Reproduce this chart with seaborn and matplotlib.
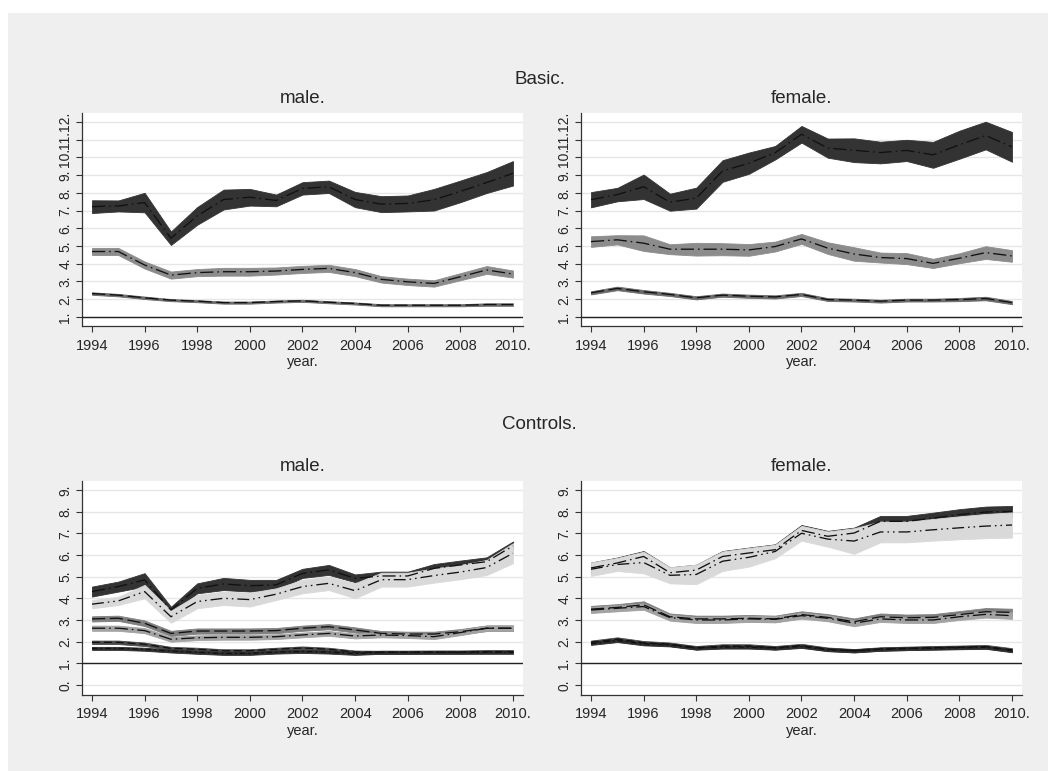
import matplotlib
matplotlib.use("Agg")
import matplotlib.pyplot as plt
from matplotlib.patches import Rectangle
import seaborn as sns

years = [1994, 1995, 1996, 1997, 1998, 1999, 2000, 2001, 2002,
         2003, 2004, 2005, 2006, 2007, 2008, 2009, 2010]
xtick_years = [1994, 1996, 1998, 2000, 2002, 2004, 2006, 2008, 2010]
xtick_labels = ["1994", "1996", "1998", "2000", "2002", "2004", "2006", "2008", "2010."]

# ---- Basic specification: male ----
basic_m_top = [7.22, 7.26, 7.45, 5.44, 6.70, 7.62, 7.75, 7.57, 8.25, 8.34, 7.62, 7.36, 7.40, 7.61, 8.08, 8.58, 9.10]
basic_m_top_ci = [0.36, 0.31, 0.55, 0.38, 0.50, 0.56, 0.47, 0.33, 0.35, 0.35, 0.43, 0.45, 0.45, 0.61, 0.61, 0.59, 0.69]
basic_m_mid = [4.69, 4.69, 3.93, 3.36, 3.50, 3.55, 3.55, 3.59, 3.68, 3.74, 3.50, 3.12, 2.98, 2.89, 3.27, 3.65, 3.42]
basic_m_mid_ci = [0.20, 0.20, 0.20, 0.20, 0.20, 0.22, 0.22, 0.20, 0.20, 0.20, 0.20, 0.18, 0.18, 0.18, 0.20, 0.22, 0.20]
basic_m_low = [2.32, 2.23, 2.08, 1.95, 1.89, 1.81, 1.81, 1.87, 1.91, 1.83, 1.76, 1.66, 1.66, 1.66, 1.66, 1.70, 1.70]
basic_m_low_ci = [0.07, 0.07, 0.07, 0.06, 0.06, 0.06, 0.06, 0.06, 0.06, 0.06, 0.06, 0.06, 0.06, 0.06, 0.06, 0.07, 0.07]

# ---- Basic specification: female ----
basic_f_top = [7.61, 7.90, 8.34, 7.47, 7.70, 9.23, 9.67, 10.26, 11.30, 10.52, 10.40, 10.27, 10.39, 10.14, 10.71, 11.23, 10.59]
basic_f_top_ci = [0.43, 0.38, 0.69, 0.48, 0.59, 0.61, 0.60, 0.38, 0.47, 0.54, 0.67, 0.61, 0.60, 0.73, 0.79, 0.78, 0.84]
basic_f_mid = [5.25, 5.35, 5.16, 4.82, 4.82, 4.82, 4.78, 4.97, 5.40, 4.88, 4.55, 4.35, 4.29, 4.02, 4.31, 4.63, 4.44]
basic_f_mid_ci = [0.30, 0.26, 0.44, 0.28, 0.36, 0.34, 0.33, 0.28, 0.28, 0.33, 0.38, 0.28, 0.31, 0.26, 0.28, 0.36, 0.33]
basic_f_low = [2.36, 2.61, 2.42, 2.27, 2.08, 2.23, 2.17, 2.13, 2.27, 1.98, 1.95, 1.89, 1.95, 1.95, 1.98, 2.04, 1.81]
basic_f_low_ci = [0.09, 0.10, 0.10, 0.09, 0.09, 0.09, 0.09, 0.09, 0.09, 0.08, 0.08, 0.08, 0.08, 0.08, 0.09, 0.10, 0.09]

# ---- With controls: male ----
ctrl_m_top_a = [4.31, 4.54, 4.85, 3.46, 4.46, 4.66, 4.58, 4.62, 5.15, 5.31, 4.92, 5.03, 5.03, 5.38, 5.54, 5.69, 6.42]
ctrl_m_top_a_ci = [0.23, 0.23, 0.31, 0.15, 0.23, 0.28, 0.27, 0.23, 0.21, 0.23, 0.18, 0.20, 0.20, 0.20, 0.20, 0.20, 0.20]
ctrl_m_top_b = [3.73, 3.88, 4.31, 3.15, 3.85, 4.00, 3.94, 4.19, 4.54, 4.69, 4.35, 4.86, 4.86, 5.05, 5.21, 5.42, 6.08]
ctrl_m_top_b_ci = [0.19, 0.19, 0.31, 0.28, 0.31, 0.31, 0.32, 0.27, 0.31, 0.31, 0.35, 0.32, 0.32, 0.33, 0.33, 0.35, 0.46]
ctrl_m_mid_a = [3.05, 3.08, 2.85, 2.38, 2.49, 2.49, 2.49, 2.51, 2.62, 2.69, 2.54, 2.38, 2.35, 2.35, 2.46, 2.62, 2.62]
ctrl_m_mid_a_ci = [0.12, 0.12, 0.13, 0.12, 0.12, 0.12, 0.12, 0.12, 0.12, 0.12, 0.12, 0.11, 0.11, 0.11, 0.12, 0.13, 0.13]
ctrl_m_mid_b = [2.62, 2.62, 2.51, 2.11, 2.18, 2.20, 2.20, 2.23, 2.31, 2.38, 2.26, 2.31, 2.28, 2.23, 2.42, 2.62, 2.62]
ctrl_m_mid_b_ci = [0.12, 0.12, 0.12, 0.11, 0.11, 0.11, 0.11, 0.11, 0.11, 0.11, 0.11, 0.11, 0.11, 0.11, 0.12, 0.12, 0.12]
ctrl_m_low_a = [1.97, 1.97, 1.88, 1.69, 1.65, 1.58, 1.58, 1.65, 1.71, 1.65, 1.52, 1.51, 1.51, 1.52, 1.52, 1.54, 1.54]
ctrl_m_low_a_ci = [0.08, 0.08, 0.08, 0.07, 0.07, 0.07, 0.07, 0.07, 0.07, 0.07, 0.07, 0.07, 0.07, 0.07, 0.07, 0.07, 0.07]
ctrl_m_low_b = [1.69, 1.69, 1.65, 1.57, 1.51, 1.46, 1.46, 1.52, 1.55, 1.52, 1.46, 1.51, 1.51, 1.51, 1.51, 1.51, 1.51]
ctrl_m_low_b_ci = [0.07, 0.07, 0.07, 0.07, 0.07, 0.07, 0.07, 0.07, 0.07, 0.07, 0.07, 0.07, 0.07, 0.07, 0.07, 0.07, 0.07]

# ---- With controls: female ----
ctrl_f_top_a = [5.40, 5.63, 5.93, 5.18, 5.30, 5.93, 6.09, 6.24, 7.13, 6.86, 7.01, 7.55, 7.55, 7.70, 7.86, 7.98, 8.01]
ctrl_f_top_a_ci = [0.25, 0.25, 0.25, 0.25, 0.25, 0.25, 0.25, 0.25, 0.25, 0.25, 0.25, 0.25, 0.25, 0.25, 0.25, 0.25, 0.25]
ctrl_f_top_b = [5.34, 5.56, 5.65, 5.06, 5.10, 5.71, 5.89, 6.16, 7.00, 6.73, 6.64, 7.06, 7.06, 7.16, 7.25, 7.33, 7.38]
ctrl_f_top_b_ci = [0.31, 0.30, 0.50, 0.37, 0.45, 0.45, 0.43, 0.31, 0.34, 0.35, 0.59, 0.48, 0.48, 0.50, 0.53, 0.56, 0.58]
ctrl_f_mid_a = [3.50, 3.58, 3.70, 3.15, 3.05, 3.05, 3.08, 3.05, 3.25, 3.12, 2.92, 3.15, 3.10, 3.12, 3.25, 3.38, 3.35]
ctrl_f_mid_a_ci = [0.15, 0.15, 0.16, 0.15, 0.15, 0.15, 0.15, 0.15, 0.15, 0.15, 0.15, 0.15, 0.15, 0.15, 0.16, 0.17, 0.17]
ctrl_f_mid_b = [3.46, 3.54, 3.62, 3.11, 3.00, 3.00, 3.05, 3.03, 3.20, 3.08, 2.85, 3.05, 3.00, 3.00, 3.15, 3.26, 3.20]
ctrl_f_mid_b_ci = [0.14, 0.14, 0.15, 0.14, 0.14, 0.14, 0.14, 0.14, 0.14, 0.14, 0.14, 0.14, 0.14, 0.14, 0.15, 0.15, 0.15]
ctrl_f_low_a = [1.97, 2.12, 1.95, 1.88, 1.72, 1.80, 1.80, 1.72, 1.82, 1.65, 1.58, 1.66, 1.69, 1.72, 1.74, 1.77, 1.62]
ctrl_f_low_a_ci = [0.08, 0.08, 0.08, 0.08, 0.08, 0.08, 0.08, 0.08, 0.08, 0.08, 0.08, 0.08, 0.08, 0.08, 0.08, 0.08, 0.08]
ctrl_f_low_b = [1.92, 2.05, 1.90, 1.85, 1.70, 1.75, 1.75, 1.70, 1.78, 1.63, 1.58, 1.65, 1.68, 1.70, 1.72, 1.74, 1.58]
ctrl_f_low_b_ci = [0.07, 0.07, 0.07, 0.07, 0.07, 0.07, 0.07, 0.07, 0.07, 0.07, 0.07, 0.07, 0.07, 0.07, 0.07, 0.07, 0.07]

basic_yticks = [1, 2, 3, 4, 5, 6, 7, 8, 9, 10, 11, 12]
ctrl_yticks = [0, 1, 2, 3, 4, 5, 6, 7, 8, 9]

# ---- styling ----
sns.set_style("white")
plt.rcParams["font.family"] = ["Liberation Sans", "DejaVu Sans"]

LONGDASH_DOT = (0, (10, 3, 1.2, 3))
LONGDASH = (0, (10, 3.5))
DASH_DOT_DOT = (0, (9, 3, 1.2, 3, 1.2, 3))
DASH = (0, (6, 3))
SHORTDASH_DOT = (0, (4, 2.5, 1.2, 2.5))

BG = "#efefef"
GRID = "#e6e6e6"
INK = "#111111"

fig = plt.figure(figsize=(10.48, 7.71), dpi=100, facecolor="white")
fig.patches.append(Rectangle((8 / 1048, 0), 1 - 8 / 1048, 1 - 13 / 771,
                             transform=fig.transFigure, facecolor=BG,
                             edgecolor="none", zorder=-10))

W = 441 / 1048
H_top = 213 / 771
H_bot = 214 / 771
ax_bm = fig.add_axes([82 / 1048, 1 - 326 / 771, W, H_top])
ax_bf = fig.add_axes([581 / 1048, 1 - 326 / 771, W, H_top])
ax_cm = fig.add_axes([82 / 1048, 1 - 695 / 771, W, H_bot])
ax_cf = fig.add_axes([581 / 1048, 1 - 695 / 771, W, H_bot])


def band(ax, mid, ci, fill, ls):
    lo = [m - c for m, c in zip(mid, ci)]
    hi = [m + c for m, c in zip(mid, ci)]
    ax.fill_between(years, lo, hi, color=fill, linewidth=0.6, edgecolor=fill, zorder=2)
    sns.lineplot(x=years, y=mid, ax=ax, color=INK, linewidth=0.95,
                 linestyle=ls, zorder=3)


def dress(ax, yticks, ylim, title):
    ax.set_facecolor("white")
    ax.set_xlim(1993.62, 2010.38)
    ax.set_ylim(*ylim)
    for y in yticks:
        ax.axhline(y, color=GRID, linewidth=1.0, zorder=0)
    ax.axhline(1, color="#222222", linewidth=1.0, zorder=4)
    ax.set_yticks(yticks)
    ax.set_yticklabels([f"{t}." for t in yticks], rotation=90, va="center", fontsize=10)
    ax.set_xticks(xtick_years)
    ax.set_xticklabels(xtick_labels, fontsize=10.5)
    ax.tick_params(axis="both", direction="out", length=4, width=0.8,
                   color="#333333", pad=3, left=True, bottom=True)
    ax.tick_params(axis="x", pad=5)
    for side in ("top", "right"):
        ax.spines[side].set_visible(False)
    for side in ("left", "bottom"):
        ax.spines[side].set_color("#333333")
        ax.spines[side].set_linewidth(0.9)
    ax.set_xlabel("year.", fontsize=10.5, labelpad=1.5)
    ax.set_ylabel("")
    ax.set_title(title, fontsize=13.5, pad=7)


# Basic panels
band(ax_bm, basic_m_top, basic_m_top_ci, "#333333", LONGDASH_DOT)
band(ax_bm, basic_m_mid, basic_m_mid_ci, "#8c8c8c", LONGDASH_DOT)
band(ax_bm, basic_m_low, basic_m_low_ci, "#6a6a6a", LONGDASH)
band(ax_bf, basic_f_top, basic_f_top_ci, "#333333", LONGDASH_DOT)
band(ax_bf, basic_f_mid, basic_f_mid_ci, "#8c8c8c", LONGDASH_DOT)
band(ax_bf, basic_f_low, basic_f_low_ci, "#6a6a6a", LONGDASH)

# Controls panels
for ax, d in ((ax_cm, (ctrl_m_top_a, ctrl_m_top_a_ci, ctrl_m_top_b, ctrl_m_top_b_ci,
                       ctrl_m_mid_a, ctrl_m_mid_a_ci, ctrl_m_mid_b, ctrl_m_mid_b_ci,
                       ctrl_m_low_a, ctrl_m_low_a_ci, ctrl_m_low_b, ctrl_m_low_b_ci)),
              (ax_cf, (ctrl_f_top_a, ctrl_f_top_a_ci, ctrl_f_top_b, ctrl_f_top_b_ci,
                       ctrl_f_mid_a, ctrl_f_mid_a_ci, ctrl_f_mid_b, ctrl_f_mid_b_ci,
                       ctrl_f_low_a, ctrl_f_low_a_ci, ctrl_f_low_b, ctrl_f_low_b_ci))):
    band(ax, d[0], d[1], "#333333", LONGDASH_DOT)
    band(ax, d[2], d[3], "#d9d9d9", DASH_DOT_DOT)
    band(ax, d[4], d[5], "#7f7f7f", LONGDASH)
    band(ax, d[6], d[7], "#a3a3a3", LONGDASH_DOT)
    band(ax, d[8], d[9], "#4a4a4a", DASH)
    band(ax, d[10], d[11], "#2e2e2e", SHORTDASH_DOT)

dress(ax_bm, basic_yticks, (0.49, 12.5), "male.")
dress(ax_bf, basic_yticks, (0.49, 12.5), "female.")
dress(ax_cm, ctrl_yticks, (-0.46, 9.41), "male.")
dress(ax_cf, ctrl_yticks, (-0.46, 9.41), "female.")

fig.text(0.515, 1 - 80 / 771, "Basic.", ha="center", va="center", fontsize=13.5)
fig.text(0.515, 1 - 424 / 771, "Controls.", ha="center", va="center", fontsize=13.5)

fig.savefig("out.png", dpi=100, facecolor=fig.get_facecolor())
